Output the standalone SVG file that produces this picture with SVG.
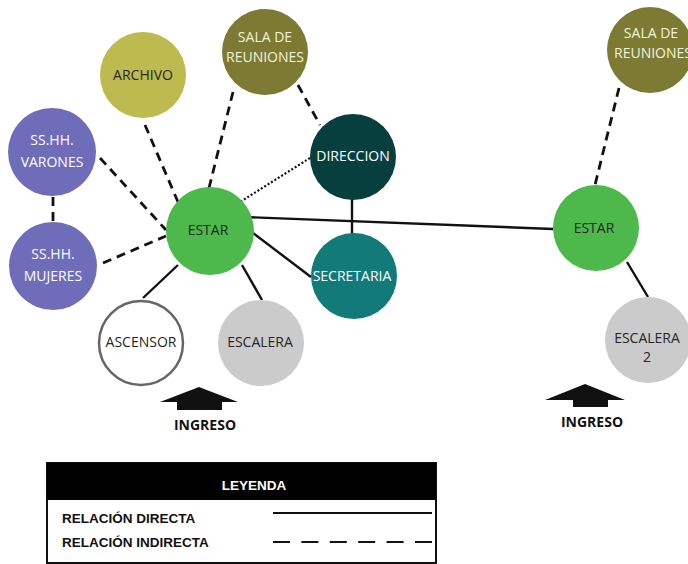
<svg xmlns="http://www.w3.org/2000/svg" width="688" height="564" viewBox="0 0 688 564">
<style>
.lbl{font-family:"Open Sans","Noto Sans",sans-serif;font-size:14px;text-anchor:middle}
.dk{fill:#262626}.lt{fill:#ffffff}
.solid{stroke:#111;stroke-width:2.4;fill:none}
.dash{stroke:#111;stroke-width:2.8;stroke-dasharray:9 6;fill:none}
.dot{stroke:#111;stroke-width:2.2;stroke-dasharray:2 2;fill:none}
.ing{font-family:"Open Sans","Noto Sans",sans-serif;font-size:14px;font-weight:bold;fill:#111;text-anchor:middle}
.leg{font-family:"Liberation Sans",Arial,sans-serif;font-size:13.5px;font-weight:bold}
</style>
<rect width="688" height="564" fill="#fff"/>
<g id="connectors">
<line class="dash" x1="145" y1="125" x2="178" y2="202"/>
<line class="dash" x1="233" y1="92" x2="209" y2="188"/>
<line class="dash" x1="298" y1="85" x2="320" y2="125"/>
<line class="dash" x1="100" y1="158" x2="166" y2="230"/>
<line class="dash" x1="103" y1="263" x2="166" y2="236"/>
<line class="dash" x1="53" y1="197" x2="53" y2="223"/>
<line class="dot" x1="310" y1="158" x2="240" y2="202"/>
<line class="solid" x1="245" y1="217" x2="553" y2="229"/>
<line class="solid" x1="253" y1="233" x2="311" y2="277"/>
<line class="solid" x1="352" y1="199" x2="352" y2="234"/>
<line class="solid" x1="178" y1="265" x2="143" y2="298"/>
<line class="solid" x1="242" y1="265" x2="262" y2="300"/>
<line class="dash" x1="619" y1="88" x2="595" y2="185"/>
<line class="solid" x1="627" y1="262" x2="648" y2="297"/>
</g>
<g id="archivo"><circle cx="143" cy="75" r="43" fill="#bdbb50"/><text class="lbl dk" x="143" y="80">ARCHIVO</text></g>
<g id="sala1"><circle cx="265" cy="52" r="43" fill="#7d7b33"/><text class="lbl" fill="#f4f2dc" x="265" y="42">SALA DE</text><text class="lbl" fill="#f4f2dc" x="265" y="62">REUNIONES</text></g>
<g id="varones"><circle cx="52" cy="152" r="44" fill="#6f6cb9"/><text class="lbl lt" x="52" y="145">SS.HH.</text><text class="lbl lt" x="52" y="167">VARONES</text></g>
<g id="mujeres"><circle cx="53" cy="266" r="44" fill="#6f6cb9"/><text class="lbl lt" x="53" y="259">SS.HH.</text><text class="lbl lt" x="53" y="281">MUJERES</text></g>
<g id="direccion"><circle cx="353" cy="157" r="43" fill="#063f3e"/><text class="lbl lt" x="353" y="161">DIRECCION</text></g>
<g id="secretaria"><circle cx="354" cy="276" r="43" fill="#127a78"/><text class="lbl lt" x="352" y="281">SECRETARIA</text></g>
<g id="estar1"><circle cx="210" cy="231" r="44" fill="#4db84b"/><text class="lbl dk" x="208" y="235">ESTAR</text></g>
<g id="ascensor"><circle cx="141" cy="343" r="42" fill="#fff" stroke="#666" stroke-width="2.5"/><text class="lbl dk" x="141" y="347">ASCENSOR</text></g>
<g id="escalera"><circle cx="261" cy="343" r="43" fill="#cbcbcb"/><text class="lbl dk" x="260" y="347">ESCALERA</text></g>
<g id="sala2"><circle cx="650" cy="50" r="43" fill="#7d7b33"/><text class="lbl" fill="#f4f2dc" x="651" y="38">SALA DE</text><text class="lbl" fill="#f4f2dc" x="653" y="58">REUNIONES</text></g>
<g id="estar2"><circle cx="596" cy="228" r="43" fill="#4db84b"/><text class="lbl dk" x="594" y="233">ESTAR</text></g>
<g id="escalera2"><circle cx="648" cy="340" r="43" fill="#cbcbcb"/><text class="lbl dk" x="647" y="343">ESCALERA</text><text class="lbl dk" x="647" y="362">2</text></g>
<g id="ingreso1"><polygon points="160,402 199,387 238,402 222,402 222,410 177,410 177,402" fill="#111"/><text class="ing" x="205" y="430">INGRESO</text></g>
<g id="ingreso2"><polygon points="545,400 585,384 625,400 608,400 608,407 573,407 573,400" fill="#111"/><text class="ing" x="592" y="427">INGRESO</text></g>
<g id="legend">
<rect x="47" y="463" width="389" height="100" fill="#fff" stroke="#111" stroke-width="2"/>
<rect x="47" y="463" width="389" height="37" fill="#000"/>
<text class="leg" x="254" y="490" fill="#fff" text-anchor="middle">LEYENDA</text>
<text class="leg" x="62" y="523" fill="#111">RELACIÓN DIRECTA</text>
<text class="leg" x="62" y="547" fill="#111">RELACIÓN INDIRECTA</text>
<line x1="273" y1="513" x2="432" y2="513" stroke="#111" stroke-width="2"/>
<line x1="273" y1="542" x2="432" y2="542" stroke="#111" stroke-width="2" stroke-dasharray="17 11.4"/>
</g>
</svg>
